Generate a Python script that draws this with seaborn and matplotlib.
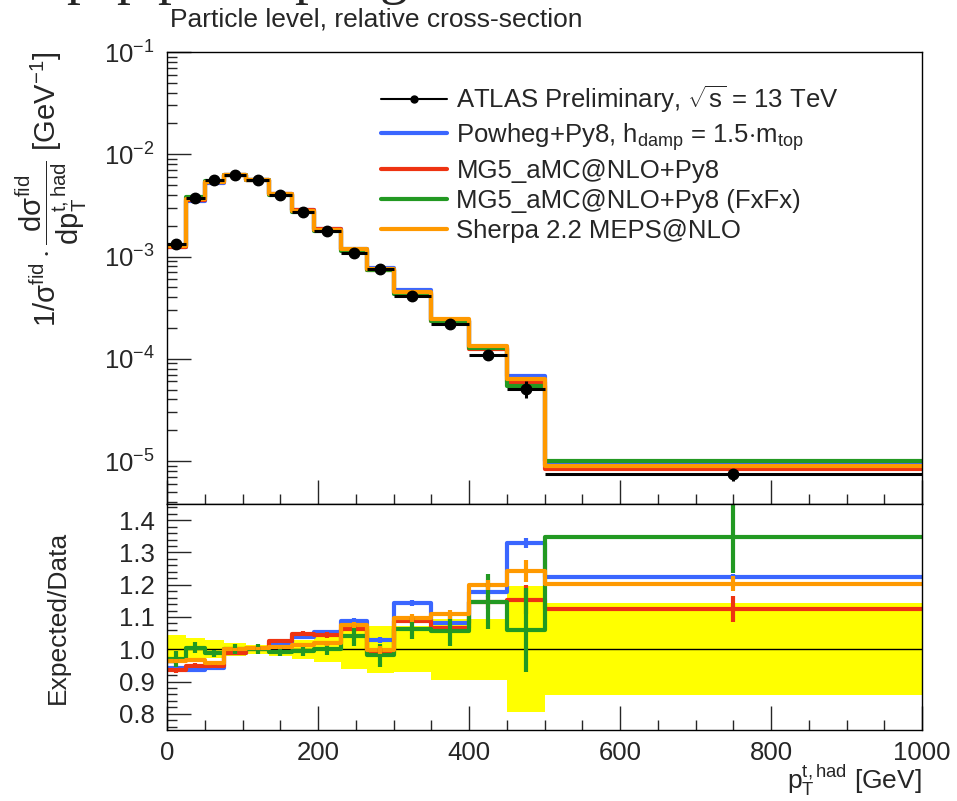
import numpy as np
import pandas as pd
import matplotlib
matplotlib.use("Agg")
import matplotlib.pyplot as plt
from matplotlib.lines import Line2D
from matplotlib.ticker import MultipleLocator, LogLocator, NullFormatter, FormatStrFormatter
import seaborn as sns

# ---------------- data ----------------
edges = [0, 25, 50, 75, 105, 135, 165, 195, 230, 265, 300, 350, 400, 450, 500, 1000]
data_vals = [1.32e-3, 3.77e-3, 5.61e-3, 6.28e-3, 5.57e-3, 4.01e-3, 2.74e-3, 1.78e-3,
             1.09e-3, 7.53e-4, 4.07e-4, 2.19e-4, 1.10e-4, 5.1e-5, 7.4e-6]
data_rel_unc = [0.044, 0.036, 0.028, 0.021, 0.014, 0.021, 0.029, 0.038,
                0.062, 0.072, 0.071, 0.095, 0.095, 0.195, 0.142]

ratio_powheg = [0.943, 0.935, 0.941, 0.990, 1.000, 1.020, 1.038, 1.052, 1.088, 1.028, 1.144, 1.082, 1.177, 1.329, 1.224]
ratio_mg5 = [0.935, 0.949, 0.948, 0.987, 1.000, 1.026, 1.048, 1.044, 1.062, 0.990, 1.089, 1.067, 1.145, 1.154, 1.124]
ratio_fxfx = [0.971, 1.005, 0.987, 1.000, 1.000, 0.993, 0.995, 1.000, 1.042, 0.981, 1.064, 1.057, 1.147, 1.060, 1.347]
ratio_sherpa = [0.964, 0.966, 0.957, 1.000, 1.003, 1.008, 1.013, 1.018, 1.076, 0.997, 1.096, 1.108, 1.200, 1.242, 1.203]

err_powheg = [0.006, 0.006, 0.005, 0.005, 0.005, 0.005, 0.006, 0.006, 0.008, 0.010, 0.010, 0.012, 0.015, 0.015, 0.010]
err_mg5 = [0.008, 0.008, 0.007, 0.006, 0.006, 0.007, 0.008, 0.008, 0.010, 0.012, 0.012, 0.015, 0.020, 0.045, 0.040]
err_fxfx = [0.025, 0.018, 0.012, 0.015, 0.015, 0.015, 0.016, 0.017, 0.033, 0.035, 0.032, 0.046, 0.085, 0.130, 0.110]
err_sherpa = [0.006, 0.006, 0.006, 0.005, 0.005, 0.006, 0.006, 0.007, 0.010, 0.012, 0.012, 0.015, 0.015, 0.035, 0.023]

model_names = ["Powheg+Py8, h$_{\\mathrm{damp}}$ = 1.5$\\cdot$m$_{\\mathrm{top}}$",
               "MG5_aMC@NLO+Py8",
               "MG5_aMC@NLO+Py8 (FxFx)",
               "Sherpa 2.2 MEPS@NLO"]
data_label = "ATLAS Preliminary, $\\sqrt{\\mathrm{s}}$ = 13 TeV"
colors = ["#3a66ff", "#ee3311", "#229922", "#ff9900"]

title_text = "Particle level, relative cross-section"
xlabel_text = "p$_{\\mathrm{T}}^{\\mathrm{t,had}}$ [GeV]"
ylabel_top = ("1/$\\mathrm{\\sigma}^{\\mathrm{fid}}\\cdot\\dfrac{\\mathrm{d\\sigma}^{\\mathrm{fid}}}"
              "{\\mathrm{dp}_{\\mathrm{T}}^{\\mathrm{t,had}}}$ [GeV$^{-1}$]")
ylabel_ratio = "Expected/Data"

# ---------------- style ----------------
sns.set_theme(style="ticks")
plt.rcParams['font.family'] = ['Liberation Sans', 'DejaVu Sans']
plt.rcParams['mathtext.fontset'] = 'custom'
plt.rcParams['mathtext.rm'] = 'Liberation Sans'
plt.rcParams['mathtext.it'] = 'Liberation Sans:italic'
plt.rcParams['mathtext.bf'] = 'Liberation Sans:bold'
plt.rcParams['mathtext.sf'] = 'Liberation Sans'
plt.rcParams['axes.linewidth'] = 1.0
plt.rcParams['axes.edgecolor'] = 'black'

W, H = 957, 801
fig = plt.figure(figsize=(W / 100, H / 100), dpi=100)
L, R = 167, 922
ax = fig.add_axes([L / W, (H - 504) / H, (R - L) / W, (504 - 52) / H])
ax2 = fig.add_axes([L / W, (H - 730) / H, (R - L) / W, (730 - 504) / H], sharex=ax)

edges_a = np.array(edges, dtype=float)
centers = 0.5 * (edges_a[1:] + edges_a[:-1])
halfw = 0.5 * (edges_a[1:] - edges_a[:-1])
data_a = np.array(data_vals)
unc_a = np.array(data_rel_unc)

ratios = [ratio_powheg, ratio_mg5, ratio_fxfx, ratio_sherpa]
errs = [err_powheg, err_mg5, err_fxfx, err_sherpa]

rows_top, rows_rat = [], []
for name, r in zip(model_names, ratios):
    r = np.array(r)
    pred = r * data_a
    for xe, yv in zip(edges, list(pred) + [pred[-1]]):
        rows_top.append({"x": xe, "y": yv, "model": name})
    for xe, yv in zip(edges, list(r) + [r[-1]]):
        rows_rat.append({"x": xe, "y": yv, "model": name})
df_top = pd.DataFrame(rows_top)
df_rat = pd.DataFrame(rows_rat)
pal = dict(zip(model_names, colors))

# ---------------- top panel ----------------
sns.lineplot(data=df_top, x="x", y="y", hue="model", hue_order=model_names, palette=pal,
             drawstyle="steps-post", linewidth=3.0, legend=False, ax=ax,
             estimator=None, sort=False, zorder=2)
ax.errorbar(centers, data_a, xerr=halfw, yerr=data_a * unc_a, fmt='o', color='black',
            ms=7.5, elinewidth=2.2, capsize=0, zorder=4)
ax.set_yscale('log')
ax.set_ylim(3.8e-6, 0.1)
ax.set_xlim(0, 1000)
ax.set_xlabel("")
ax.set_ylabel(ylabel_top, fontsize=21, loc='top')
ax.yaxis.set_label_coords(-0.103, 1.0)
ax.yaxis.set_major_locator(LogLocator(base=10, numticks=10))
ax.yaxis.set_minor_locator(LogLocator(base=10, subs=np.arange(2, 10), numticks=20))
ax.yaxis.set_minor_formatter(NullFormatter())
ax.xaxis.set_major_locator(MultipleLocator(200))
ax.xaxis.set_minor_locator(MultipleLocator(50))
ax.tick_params(axis='x', which='both', direction='in', top=False, bottom=True, labelbottom=False)
ax.tick_params(axis='y', which='both', direction='in', left=True, right=False)
ax.tick_params(which='major', length=17, width=1.0)
ax.tick_params(which='minor', length=7.5, width=1.0)
ax.tick_params(axis='y', labelsize=18.5, pad=9)
for s in ax.spines.values():
    s.set_visible(True)
    s.set_color('black')

handles = [Line2D([], [], color='black', marker='o', ms=5, lw=1.5)]
handles += [Line2D([], [], color=c, lw=3.0) for c in colors]
ax.legend(handles, [data_label] + model_names, loc='upper left', bbox_to_anchor=(0.283, 0.931),
          frameon=False, fontsize=18.5, handlelength=2.6, handletextpad=0.35,
          labelspacing=0.24, borderpad=0, borderaxespad=0)

# ---------------- ratio panel ----------------
band_lo = np.append(1 - unc_a, 1 - unc_a[-1])
band_hi = np.append(1 + unc_a, 1 + unc_a[-1])
ax2.fill_between(edges_a, band_lo, band_hi, step='post', color='#ffff00', lw=0, zorder=1)
ax2.axhline(1.0, color='black', lw=1.0, zorder=1.5)
sns.lineplot(data=df_rat, x="x", y="y", hue="model", hue_order=model_names, palette=pal,
             drawstyle="steps-post", linewidth=3.0, legend=False, ax=ax2,
             estimator=None, sort=False, zorder=2)
for i, (r, e, c) in enumerate(zip(ratios, errs, colors)):
    ax2.errorbar(centers, r, yerr=e, fmt='none', ecolor=c, elinewidth=3.0, capsize=0,
                 zorder=2 + 0.1 * i)
ax2.set_ylim(0.75, 1.45)
ax2.set_xlim(0, 1000)
ax2.yaxis.set_major_locator(MultipleLocator(0.1))
ax2.yaxis.set_minor_locator(MultipleLocator(0.02))
ax2.yaxis.set_major_formatter(FormatStrFormatter('%.1f'))
ax2.xaxis.set_major_locator(MultipleLocator(200))
ax2.xaxis.set_minor_locator(MultipleLocator(50))
ax2.tick_params(axis='x', which='both', direction='in', top=False, bottom=True)
ax2.tick_params(axis='y', which='both', direction='in', left=True, right=False)
ax2.tick_params(which='major', length=17, width=1.0)
ax2.tick_params(which='minor', length=7.5, width=1.0)
ax2.tick_params(axis='y', labelsize=18.5, pad=9)
ax2.tick_params(axis='x', labelsize=18.5, pad=8)
ax2.set_ylabel(ylabel_ratio, fontsize=19)
ax2.yaxis.set_label_coords(-0.128, 0.5)
ax2.set_xlabel(xlabel_text, fontsize=19, loc='right')
ax2.xaxis.set_label_coords(1.0, -0.14)
for s in ax2.spines.values():
    s.set_visible(True)
    s.set_color('black')

# ---------------- texts above ----------------
fig.text(170 / W, 1 - 27 / H, title_text, fontsize=19, ha='left', va='baseline')
for ch, xp in zip("ppppg", [80, 130, 171, 308, 393]):
    fig.text(xp / W, 1 + 7 / H, ch, fontsize=40, family='Liberation Serif',
             ha='center', va='baseline')

fig.savefig("out.png", dpi=100)
